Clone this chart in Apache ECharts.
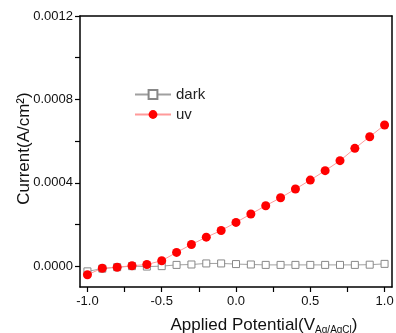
<!DOCTYPE html>
<html><head><meta charset="utf-8">
<script src="https://cdn.jsdelivr.net/npm/echarts@6/dist/echarts.min.js"></script>
<style>html,body{margin:0;padding:0;background:#fff}#c{width:396px;height:333px}</style>
</head><body><div id="c"></div>
<script>
var potential = [-1.0,-0.9,-0.8,-0.7,-0.6,-0.5,-0.4,-0.3,-0.2,-0.1,0.0,0.1,0.2,0.3,0.4,0.5,0.6,0.7,0.8,0.9,1.0];
var darkCurrent = [-0.000025,-0.000012,-0.000005,0.0,-0.000002,0.0,0.000006,0.000008,0.000013,0.000013,0.00001,0.000008,0.000006,0.000006,0.000006,0.000006,0.000006,0.000006,0.000006,0.000007,0.000011];
var uvCurrent = [-0.000041,-0.00001,-0.000005,0.000002,0.000008,0.000026,0.000066,0.000104,0.000139,0.000171,0.00021,0.00025,0.00029,0.000328,0.00037,0.000413,0.000458,0.000506,0.000565,0.000621,0.000677];
var xTicks = [-1.0,-0.75,-0.5,-0.25,0,0.25,0.5,0.75,1.0];
var xLabels = [-1.0,-0.5,0,0.5,1.0];
var yTicks = [0,0.0002,0.0004,0.0006,0.0008,0.001,0.0012];
var yLabels = [0,0.0004,0.0008,0.0012];

var font = 'Liberation Sans, Arial, sans-serif';
function pairs(xs, ys){ return xs.map(function(x,i){return [x, ys[i]];}); }
var chart = echarts.init(document.getElementById('c'));
chart.setOption({
  animation:false,
  grid:{left:80, right:4, top:16, bottom:46, containLabel:false, outerBoundsMode:'none'},
  legend:{
    orient:'vertical', left:129, top:82, itemWidth:36, itemHeight:11, itemGap:5,
    textStyle:{fontFamily:font, fontSize:15, color:'#222'},
    data:['dark','uv']
  },
  xAxis:[{
    type:'value', min:-1.05, max:1.05,
    axisLine:{onZero:false, lineStyle:{color:'#000', width:1.5}},
    axisTick:{show:true, customValues:xTicks, length:5, inside:false, lineStyle:{color:'#000', width:1.2}},
    axisLabel:{customValues:xLabels, fontFamily:font, fontSize:13, color:'#111', margin:8,
      formatter:function(v){return v.toFixed(1);}},
    splitLine:{show:false},
    name:'Applied Potential(V{sub|Ag/AgCl})', nameLocation:'middle', nameGap:29,
    nameTextStyle:{fontFamily:font, fontSize:17, color:'#111', padding:[0,0,0,56],
      rich:{sub:{fontFamily:font, fontSize:10, color:'#111', verticalAlign:'bottom', padding:[9,0,0,0]}}}
  },{
    type:'value', position:'top', min:-1.05, max:1.05,
    axisLine:{show:true, onZero:false, lineStyle:{color:'#000', width:1.5}},
    axisTick:{show:false}, axisLabel:{show:false}, splitLine:{show:false}
  }],
  yAxis:[{
    type:'value', min:-0.0001, max:0.0012,
    axisLine:{show:true, onZero:false, lineStyle:{color:'#000', width:1.5}},
    axisTick:{show:true, customValues:yTicks, length:5, lineStyle:{color:'#000', width:1.2}},
    axisLabel:{customValues:yLabels, fontFamily:font, fontSize:13, color:'#111', margin:7,
      formatter:function(v){return v.toFixed(4);}},
    splitLine:{show:false},
    name:'Current(A/cm\u00B2)', nameLocation:'middle', nameGap:47, nameRotate:90, nameMoveOverlap:false,
    nameTextStyle:{fontFamily:font, fontSize:17, color:'#111', padding:[0,0,0,6]}
  },{
    type:'value', position:'right', min:-0.0001, max:0.0012,
    axisLine:{show:true, onZero:false, lineStyle:{color:'#000', width:1.5}},
    axisTick:{show:false}, axisLabel:{show:false}, splitLine:{show:false}
  }],
  series:[{
    name:'dark', type:'line', data:pairs(potential, darkCurrent),
    symbol:'rect', symbolSize:7, showAllSymbol:true,
    lineStyle:{color:'#a0a0a0', width:1},
    itemStyle:{color:'#fff', borderColor:'#888', borderWidth:1}
  },{
    name:'uv', type:'line', data:pairs(potential, uvCurrent),
    symbol:'circle', symbolSize:9, showAllSymbol:true,
    lineStyle:{color:'#ff9a9a', width:1},
    itemStyle:{color:'#ff0000', borderColor:'#ff0000', borderWidth:0}
  }]
});
</script></body></html>
